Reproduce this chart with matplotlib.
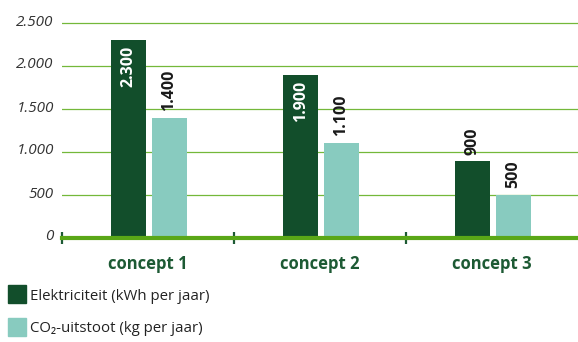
import numpy as np
import matplotlib.pyplot as plt
import matplotlib.transforms as mtransforms
from matplotlib.patches import Rectangle

plt.rcParams['font.family'] = ['Open Sans', 'DejaVu Sans']

# data
concepts = ['concept 1', 'concept 2', 'concept 3']
elektriciteit = [2300, 1900, 900]
co2 = [1400, 1100, 500]
series_labels = ['Elektriciteit (kWh per jaar)', 'CO\u2082-uitstoot (kg per jaar)']
yticks = [0, 500, 1000, 1500, 2000, 2500]

dark = '#124e2b'
light = '#88cbbf'
grid_green = '#74b83a'
base_green = '#5aa717'
label_green = '#1d5a34'

W, H = 578, 342
fig = plt.figure(figsize=(W / 100, H / 100), dpi=100)
# axes in pixel terms: x 62..578, y 238 (zero) .. 10 (top)
ax = fig.add_axes([62 / W, 1 - 238 / H, 516 / W, 228 / H])
px_per_unit = 0.086
ax.set_xlim(0, 3)
ax.set_ylim(0, 228 / px_per_unit)

x = np.arange(len(concepts))
w = 0.2035
x_dark = x + 0.387
x_light = x + 0.625

# gridlines
for v in yticks[1:]:
    ax.axhline(v, color=grid_green, lw=0.9, zorder=1)

b1 = ax.bar(x_dark, elektriciteit, width=w, color=dark, zorder=2)
b2 = ax.bar(x_light, co2, width=w, color=light, zorder=2)

# baseline
ax.axhline(0, color=base_green, lw=3, zorder=3, clip_on=False)

def fmt(v):
    return f'{v:,}'.replace(',', '.')

to_pts = 72 / 100
lbl = dict(rotation=90, ha='center', fontsize=11.5, fontweight='bold', zorder=4,
           textcoords='offset points')
for xi, v in zip(x_dark, elektriciteit):
    if v >= 1000:
        ax.annotate(fmt(v), (xi, v), xytext=(0, -6 * to_pts), va='top', color='white', **lbl)
    else:
        ax.annotate(fmt(v), (xi, v), xytext=(0, 6 * to_pts), va='bottom', color='#1a1a1a', **lbl)
for xi, v in zip(x_light, co2):
    ax.annotate(fmt(v), (xi, v), xytext=(0, 7 * to_pts), va='bottom', color='#1a1a1a', **lbl)

# y axis labels
ax.set_yticks(yticks)
ax.set_yticklabels([fmt(v) for v in yticks], fontstyle='italic', fontsize=11, color='#333333')
ax.tick_params(axis='y', length=0, pad=6)
shift = mtransforms.ScaledTranslation(0, 3 / 100, fig.dpi_scale_trans)
for lab in ax.get_yticklabels():
    lab.set_transform(lab.get_transform() + shift)

# group dividers on the baseline
ax.set_xticks([0, 1, 2])
ax.set_xticklabels([])
ax.tick_params(axis='x', direction='inout', length=8, width=1.6, color=label_green)

for xi, name in zip(x + 0.5, concepts):
    ax.annotate(name, (xi, 0), xytext=(0, -26 * to_pts), textcoords='offset points',
                ha='center', va='center', color=label_green, fontsize=12, fontweight='bold')

for s in ax.spines.values():
    s.set_visible(False)

# legend
for i, (lab, col) in enumerate(zip(series_labels, [dark, light])):
    top = 285 + i * 33
    fig.patches.append(Rectangle((8 / W, 1 - (top + 18) / H), 18 / W, 18 / H,
                                 transform=fig.transFigure, color=col))
    fig.text(30 / W, 1 - (top + 11) / H, lab, ha='left', va='center',
             fontsize=10.8, color='#222222')

fig.savefig('out.png', dpi=100)
